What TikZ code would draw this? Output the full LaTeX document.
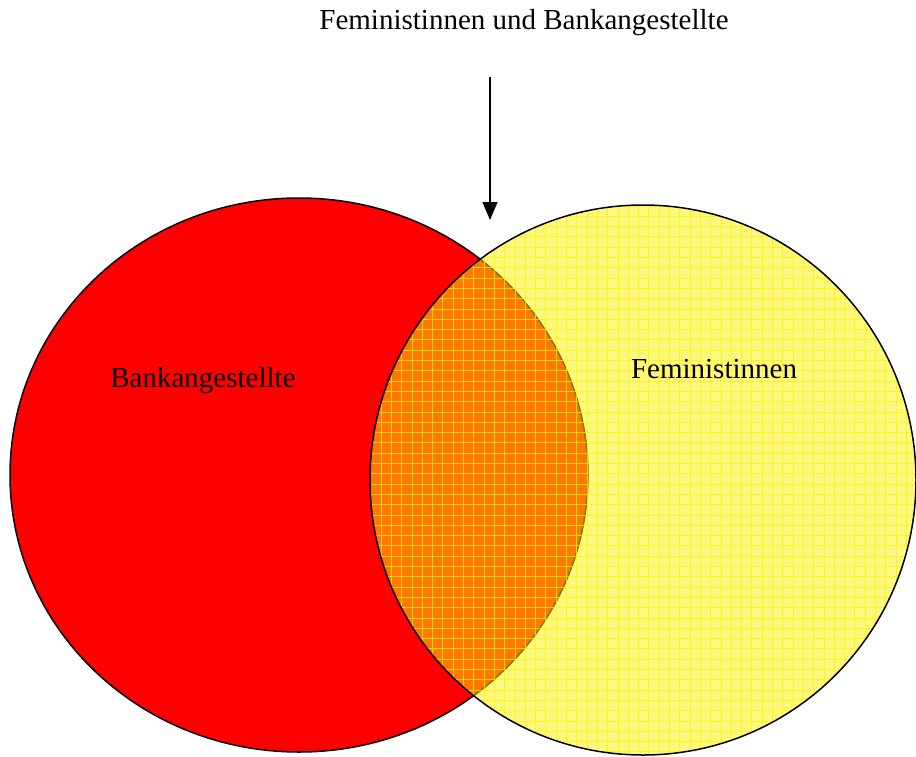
\documentclass[tikz,border=0pt]{standalone}
\usepackage{fontspec}
\setmainfont{Liberation Serif}
\usetikzlibrary{arrows.meta}

\begin{document}
\begin{tikzpicture}[
    % Ein Pixel der Vorlage = 1pt
    x=1pt, y=-1pt,
    % Stil der Beschriftungen
    every node/.style={font=\fontsize{29}{35}\selectfont, inner sep=0pt},
    % Stil der Mengenränder
    rand/.style={draw=black, line width=1.5pt},
    % Gitter über der gelben Menge
    gitter/.style={yellow, line width=1pt, opacity=0.75}
  ]

  % Bildrahmen
  \useasboundingbox (0,0) rectangle (916,756);

  % Menge der Bankangestellten (rot)
  \fill[red] (299,475) ellipse [x radius=289, y radius=277];
  \draw[rand] (299,475) ellipse [x radius=289, y radius=277];

  % Menge der Feministinnen (gelb, durchscheinend)
  \fill[yellow, fill opacity=0.5] (643,480) ellipse [x radius=273, y radius=275];
  \begin{scope}
    \clip (643,480) ellipse [x radius=273, y radius=275];
    \draw[gitter, step=10.3pt] (360,200) grid (920,760);
  \end{scope}
  \draw[rand] (643,480) ellipse [x radius=273, y radius=275];

  % Beschriftungen
  \node (bank) at (203,381) {Bankangestellte};
  \node (fem) at (714,369) {Feministinnen};
  \node (beide) at (524,23) {Feministinnen und Bankangestellte};

  % Pfeil auf die Schnittmenge
  \coordinate (pfeilstart) at (490,77);
  \coordinate (pfeilende) at (490,220);
  \draw[line width=1.5pt, -{Triangle[length=18pt, width=15pt]}] (pfeilstart) -- (pfeilende);

\end{tikzpicture}
\end{document}
